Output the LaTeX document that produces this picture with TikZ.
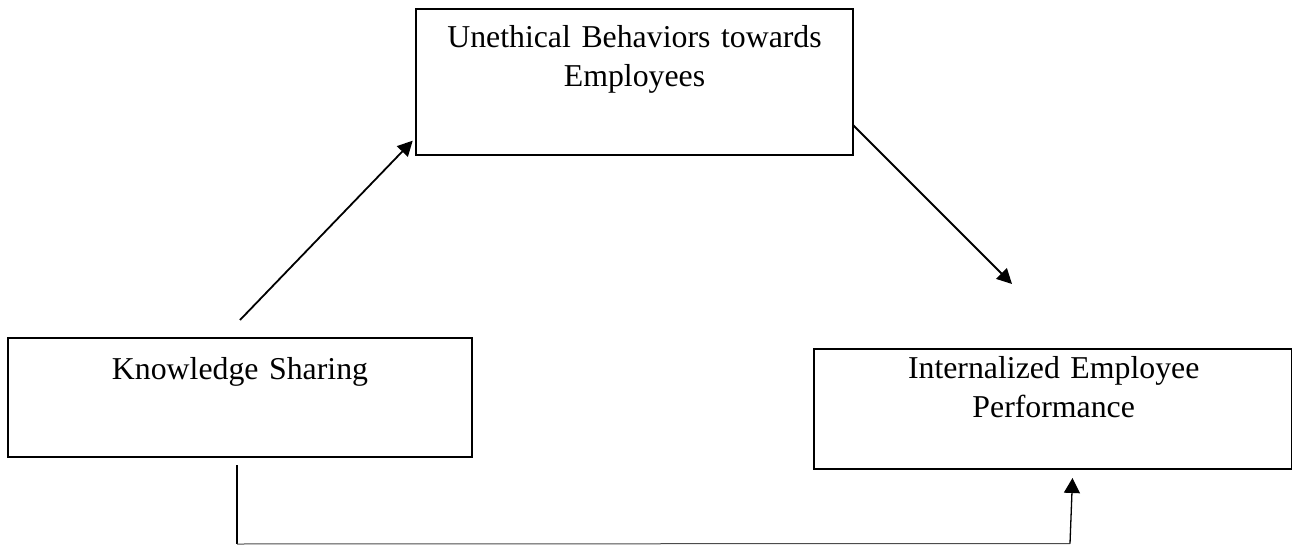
\documentclass[tikz,border=0pt]{standalone}
\usepackage{fontspec}
\setmainfont{Liberation Serif}
\usetikzlibrary{arrows.meta}
\begin{document}
\begin{tikzpicture}[x=1pt,y=-1pt,
  box/.style={draw=black,line width=1.8pt,minimum width=#1,inner sep=0pt},
  lbl/.style={font=\fontsize{31.8}{39}\selectfont,align=center,text width=520pt,anchor=base,inner sep=0pt},
  arr/.style={line width=1.8pt,-{Triangle[length=15pt,width=15pt]}},
  link/.style={line width=1pt,draw=black!70}]
\useasboundingbox (0,0) rectangle (1292,545);
% boxes
\node[box=437pt,minimum height=146pt] (ub) at (634.5,82) {};
\node[box=464pt,minimum height=119pt] (ks) at (240,397.5) {};
\node[box=478pt,minimum height=120pt] (ie) at (1053,409) {};
% texts
\node[lbl] (ubt) at (634.5,48) {Unethical Behaviors towards\\Employees};
\node[lbl] (kst) at (240,379) {Knowledge Sharing};
\node[lbl] (iet) at (1053.7,378) {Internalized Employee\\Performance};
% connector end points
\coordinate (a1s) at (240,320);
\coordinate (a1e) at (412.7,140.7);
\coordinate (a2s) at (853,125);
\coordinate (a2e) at (1012,284);
\coordinate (b0) at (237,465);
\coordinate (b1) at (237,544);
\coordinate (b2) at (1070,543.5);
\coordinate (b3) at (1072.5,478);
% connectors
\draw[arr] (a1s) -- (a1e);
\draw[arr] (a2s) -- (a2e);
\draw[line width=2.6pt] (b0) -- (b1);
\draw[link] (b1) -- (b2);
\draw[line width=1.3pt,-{Triangle[length=15pt,width=16pt]}] (b2) -- (b3);
\end{tikzpicture}
\end{document}
